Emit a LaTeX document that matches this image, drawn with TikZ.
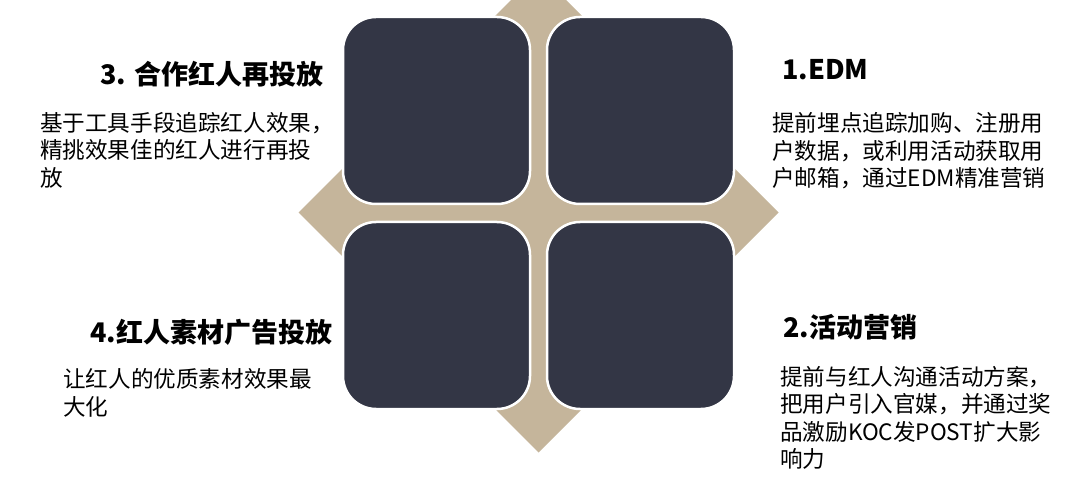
\documentclass[tikz,border=0pt]{standalone}
\usepackage{fontspec}
\setmainfont{Noto Sans CJK SC}
\usepackage{tikz}
\usetikzlibrary{positioning}
\definecolor{sandcol}{HTML}{C5B59B}
\definecolor{navycol}{HTML}{333645}
\tikzset{
  quad/.style={draw=white, line width=2.5pt, fill=navycol, rounded corners=33pt,
    minimum size=187pt, inner sep=0pt},
  heading/.style={anchor=west, inner sep=0pt, font=\fontsize{27}{32}\selectfont\bfseries},
  body/.style={anchor=west, inner sep=0pt, align=left, font=\fontsize{22.6}{27.5}\selectfont}
}

\begin{document}
\begin{tikzpicture}[x=1pt,y=-1pt]
\useasboundingbox (0,0) rectangle (1080,481);
\clip (0,0) rectangle (1080,481);
% back diamond
\coordinate (mid) at (538.5,212.5);
\fill[sandcol] (mid) ++(-240,0) -- ++(240,-240) -- ++(240,240) -- ++(-240,240) -- cycle;
% four quads
\node[quad] (edm) at (640.5,110.5) {};
\node[quad] (event) at (640.5,315.5) {};
\node[quad] (reuse) at (436.5,110.5) {};
\node[quad] (material) at (436.5,315.5) {};
% texts
\node[heading] (edm title) at (782,70) {1.EDM};
\node[body] (edm text) at (772,151) {提前埋点追踪加购、注册用\\户数据，或利用活动获取用\\户邮箱，通过EDM精准营销};
\node[heading] (event title) at (783,327) {2.活动营销};
\node[body] (event text) at (780,418) {提前与红人沟通活动方案，\\把用户引入官媒，并通过奖\\品激励KOC发POST扩大影\\响力};
\node[heading] (reuse title) at (100,74) {3. 合作红人再投放};
\node[body] (reuse text) at (40,150) {基于工具手段追踪红人效果，\\精挑效果佳的红人进行再投\\放};
\node[heading] (material title) at (90,332) {4.红人素材广告投放};
\node[body] (material text) at (63,393) {让红人的优质素材效果最\\大化};
\end{tikzpicture}
\end{document}
